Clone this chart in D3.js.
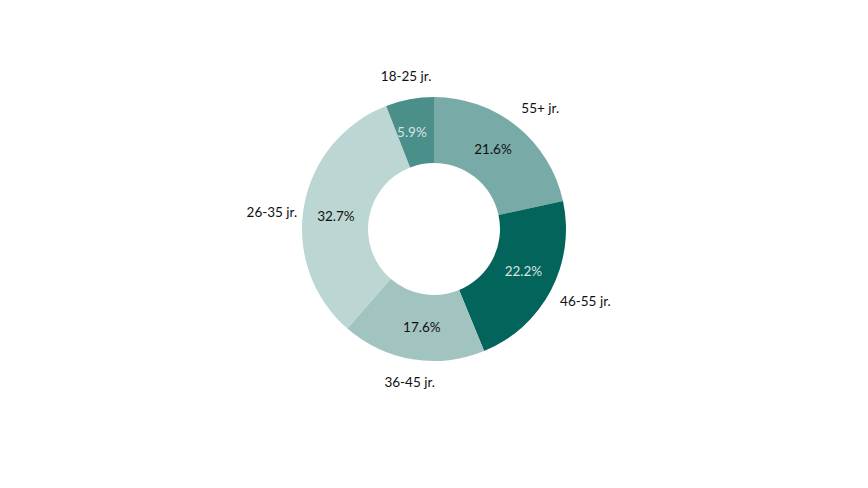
<!DOCTYPE html>
<html><head><meta charset="utf-8">
<script src="https://cdn.jsdelivr.net/npm/d3@7"></script>
<style>body{margin:0;background:#fff;} svg{display:block;} text{font-family:Lato,"Noto Sans",sans-serif;}</style>
</head><body>
<svg id="chart" width="868" height="488"></svg>
<script>
const categories = ["55+ jr.", "46-55 jr.", "36-45 jr.", "26-35 jr.", "18-25 jr."];
const values = [21.6, 22.2, 17.6, 32.7, 5.9];
const colors = ["#78aaa7", "#02645b", "#a2c4c1", "#bcd6d3", "#4a8f8a"];
const pctColors = ["#111", "#d6e4e2", "#111", "#111", "#d6e4e2"];

const svg = d3.select("#chart");
const cx = 434, cy = 229, outerR = 132, innerR = 66;
const g = svg.append("g").attr("transform", `translate(${cx},${cy})`);
const data = categories.map((c, i) => ({cat: c, value: values[i], i}));
const pie = d3.pie().value(d => d.value).sort(null);
const arcs = pie(data);
const arc = d3.arc().innerRadius(innerR).outerRadius(outerR);

g.selectAll("path").data(arcs).join("path")
  .attr("d", arc).attr("fill", d => colors[d.data.i]);

const mid = d => (d.startAngle + d.endAngle) / 2 - 0.04;
g.selectAll("text.pct").data(arcs).join("text").attr("class", "pct")
  .attr("x", d => Math.sin(mid(d)) * 99)
  .attr("y", d => -Math.cos(mid(d)) * 99)
  .attr("dy", "0.35em").attr("text-anchor", "middle")
  .attr("font-size", 13.5).attr("fill", d => pctColors[d.data.i])
  .text(d => d.data.value.toFixed(1) + "%");

const lab = g.selectAll("text.lab").data(arcs).join("text").attr("class", "lab")
  .attr("dy", "0.35em").attr("text-anchor", "middle")
  .attr("font-size", 13.5).attr("fill", "#111")
  .text(d => d.data.cat);
lab.each(function(d) {
  const a = (d.startAngle + d.endAngle) / 2;
  const w = this.getComputedTextLength();
  const R = 155;
  d3.select(this)
    .attr("x", Math.sin(a) * R + Math.sin(a) * w * 0.25 + 3)
    .attr("y", -Math.cos(a) * R + (Math.abs(Math.cos(a)) < 0.3 ? 10 : 0));
});
</script>
</body></html>
